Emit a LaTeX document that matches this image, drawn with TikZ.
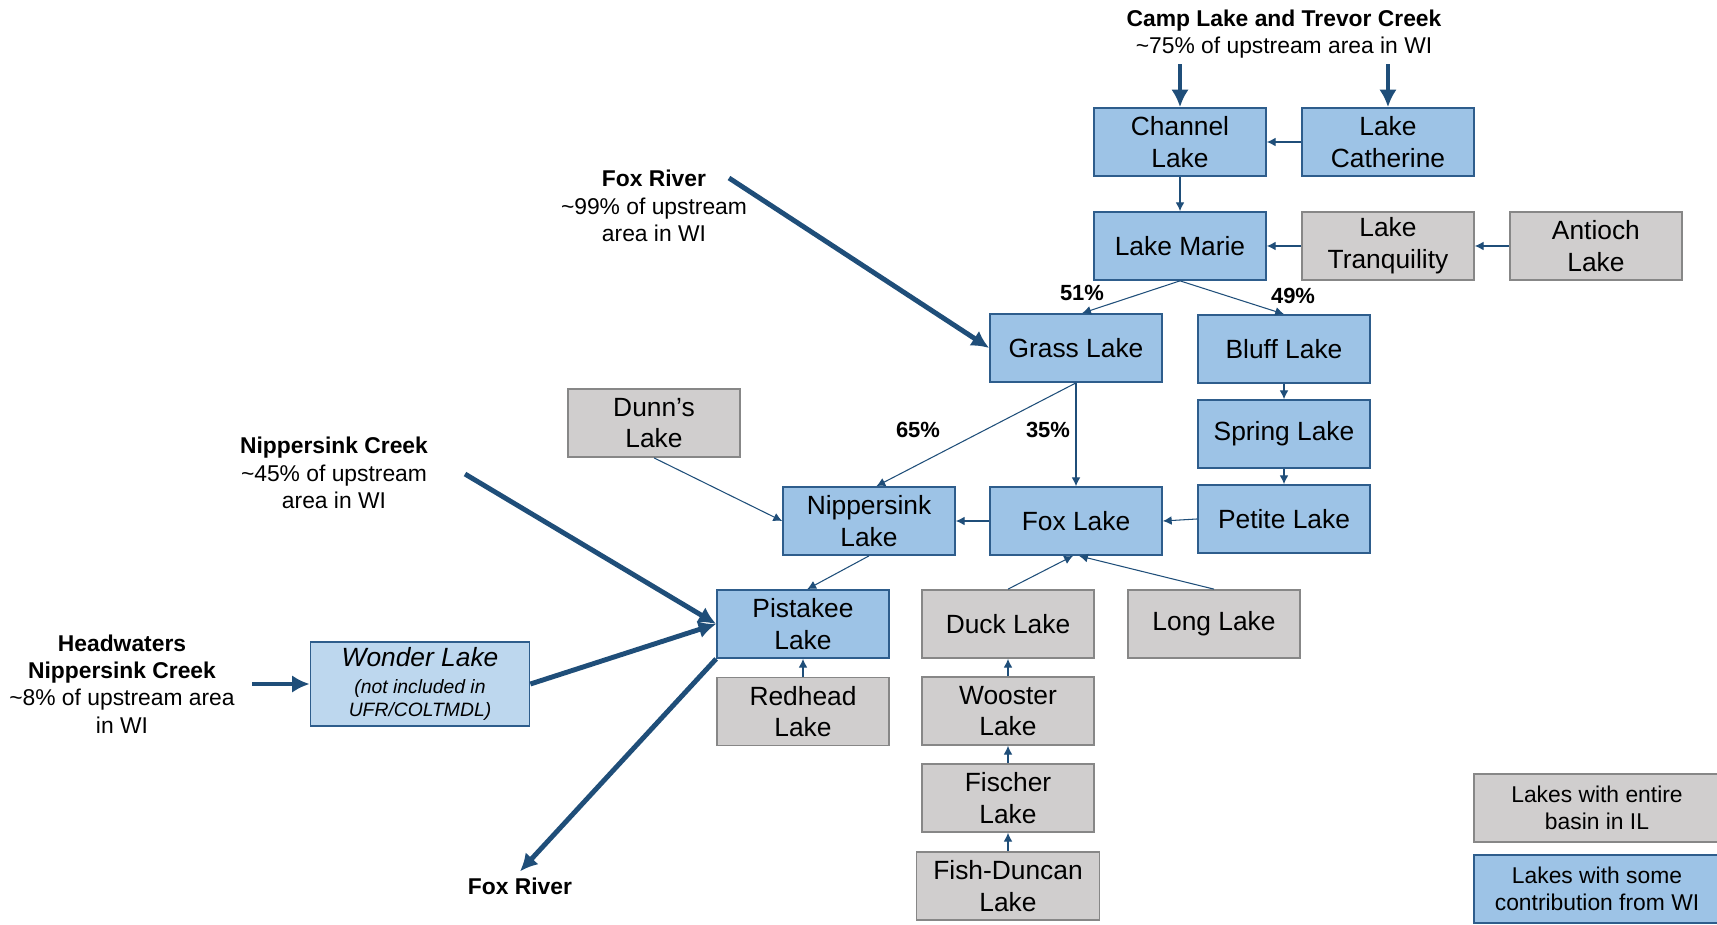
\documentclass[tikz,border=0pt]{standalone}
\usepackage{fontspec}
\setmainfont{Liberation Sans}
\usetikzlibrary{arrows.meta}

\definecolor{lakeblue}{HTML}{9DC3E6}
\definecolor{wonderblue}{HTML}{BDD7EE}
\definecolor{lakeedge}{HTML}{2E5D8C}
\definecolor{lakegray}{HTML}{D0CECE}
\definecolor{grayedge}{HTML}{878787}
\definecolor{riverblue}{HTML}{1F4E79}

\begin{document}
\begin{tikzpicture}[x=0.02cm, y=-0.02cm]
\tikzset{node distance=1.74cm, >={Latex[length=5pt,width=5pt]},
    lake/.style={rectangle, draw, line width=1pt, minimum width=3.44cm, minimum height=1.36cm, inner sep=2pt, align=center, font=\fontsize{15}{18}\selectfont},
    wilake/.style={lake, draw=lakeedge, fill=lakeblue},
    illake/.style={lake, draw=grayedge, fill=lakegray},
    srclabel/.style={align=center, font=\fontsize{13}{15.5}\selectfont},
    pctlabel/.style={font=\fontsize{12.5}{15}\selectfont\bfseries},
    flow/.style={draw=riverblue, line width=0.6pt, ->},
    inflow/.style={draw=riverblue, line width=2.8pt, -{Latex[length=10pt,width=10pt]}}
}
  \useasboundingbox (0,0) rectangle (1717,924);

  \node[wilake] (channel) at (1180,142) {Channel\\Lake};
  \node[wilake, right of=channel, node distance=4.16cm] (catherine) {Lake\\Catherine};
  \node[wilake, below of=channel, node distance=2.08cm] (marie) {Lake Marie};
  \node[illake, right of=marie, node distance=4.16cm] (tranq) {Lake\\Tranquility};
  \node[illake, right of=tranq, node distance=4.16cm] (antioch) {Antioch\\Lake};
  \node[wilake] (grass) at (1076,348) {Grass Lake};
  \node[wilake] (bluff) at (1284,349) {Bluff Lake};
  \node[wilake, below of=bluff, node distance=1.7cm] (spring) {Spring Lake};
  \node[wilake, below of=spring, node distance=1.7cm] (petite) {Petite Lake};
  \node[wilake] (fox) at (1076,521) {Fox Lake};
  \node[wilake] (nipplake) at (869,521) {Nippersink\\Lake};
  \node[illake] (dunns) at (654,423) {Dunn’s\\Lake};
  \node[wilake] (pistakee) at (803,624) {Pistakee\\Lake};
  \node[illake, below of=pistakee, node distance=1.75cm] (redhead) {Redhead\\Lake};
  \node[illake] (duck) at (1008,624) {Duck Lake};
  \node[illake] (long) at (1214,624) {Long Lake};
  \node[illake, below of=duck] (wooster) {Wooster\\Lake};
  \node[illake, below of=wooster] (fischer) {Fischer\\Lake};
  \node[illake, below of=fischer, node distance=1.76cm, minimum width=3.66cm] (fishduncan) {Fish-Duncan\\Lake};
  \node[lake, draw=lakeedge, fill=wonderblue, minimum width=4.38cm, minimum height=1.68cm, font=\fontsize{11}{13}\selectfont\itshape] (wonder) at (420,684)
    {{\fontsize{15}{18}\selectfont Wonder Lake}\\[2.5pt](not included in\\UFR/COLTMDL)};

  \node[srclabel] (camp) at (1284,34) {\textbf{Camp Lake and Trevor Creek}\\\textasciitilde75\% of upstream area in WI};
  \node[srclabel] (foxriver) at (654,206) {\textbf{Fox River}\\\textasciitilde99\% of upstream\\area in WI};
  \node[srclabel] (nippcreek) at (334,473) {\textbf{Nippersink Creek}\\\textasciitilde45\% of upstream\\area in WI};
  \node[srclabel] (headwaters) at (122,684) {\textbf{Headwaters}\\\textbf{Nippersink Creek}\\\textasciitilde8\% of upstream area\\in WI};
  \node[srclabel] (foxout) at (520,886) {\textbf{Fox River}};
  \coordinate (foxin) at (729,178);
  \coordinate (nippin) at (465,474);
  \coordinate (headin) at (252,684);

  \node[pctlabel] (p51) at (1082,293) {51\%};
  \node[pctlabel] (p49) at (1293,296) {49\%};
  \node[pctlabel] (p65) at (918,430) {65\%};
  \node[pctlabel] (p35) at (1048,430) {35\%};

  \node[illake, minimum width=4.92cm, font=\fontsize{13}{15.5}\selectfont] (keyil) at (1597,808) {Lakes with entire\\basin in IL};
  \node[wilake, minimum width=4.92cm, font=\fontsize{13}{15.5}\selectfont] (keywi) at (1597,889) {Lakes with some\\contribution from WI};

  \draw[inflow] (channel.north |- camp.south) -- (channel.north);
  \draw[inflow] (catherine.north |- camp.south) -- (catherine.north);
  \draw[flow] (catherine) -- (channel);
  \draw[flow] (channel) -- (marie);
  \draw[flow] (tranq) -- (marie);
  \draw[flow] (antioch) -- (tranq);
  \draw[flow] (marie.south) -- (grass.80);
  \draw[flow] (marie.south) -- (bluff.north);
  \draw[inflow] (foxin) -- (grass.west);
  \draw[flow] (grass.south) -- (nipplake.78);
  \draw[flow] (grass.south) -- (fox.north);
  \draw[flow] (bluff) -- (spring);
  \draw[flow] (spring) -- (petite);
  \draw[flow] (petite.west) -- (fox.east);
  \draw[flow] (fox) -- (nipplake);
  \draw[flow] (dunns.south) -- (nipplake.west);
  \draw[flow] (nipplake.south) -- (pistakee.83);
  \draw[inflow] (nippin) -- (pistakee.west);
  \draw[inflow] (headin) -- (wonder.west);
  \draw[inflow] (wonder.east) -- (pistakee.west);
  \draw[inflow] (pistakee.south west) -- (foxout.north);
  \draw[flow] (redhead) -- (pistakee);
  \draw[flow] (duck.north) -- (fox.265);
  \draw[flow] (long.north) -- (fox.275);
  \draw[flow] (wooster) -- (duck);
  \draw[flow] (fischer) -- (wooster);
  \draw[flow] (fishduncan) -- (fischer);
\end{tikzpicture}
\end{document}
